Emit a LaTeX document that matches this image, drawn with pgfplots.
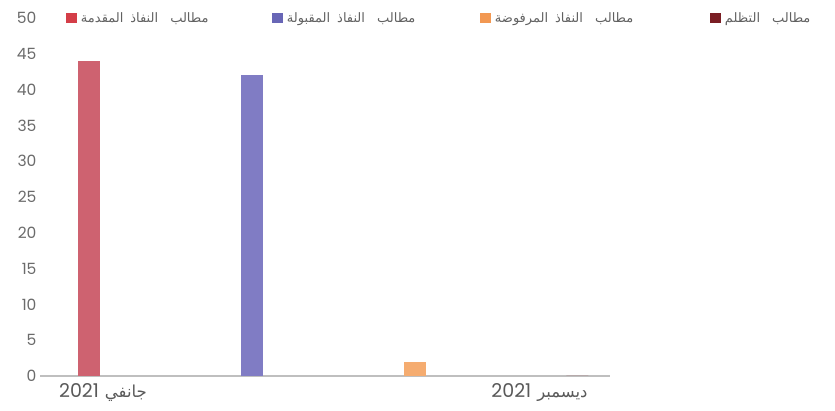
\documentclass[border=0pt]{standalone}
\usepackage{fontspec}
\setmainfont{Poppins}
\newfontfamily\arabicfont[Script=Arabic]{DejaVu Sans}
\TeXXeTstate=1
\usepackage{pgfplots}
\pgfplotsset{compat=1.18}
\usetikzlibrary{calc}
\definecolor{cRed}{RGB}{206,98,112}
\definecolor{cPurple}{RGB}{128,124,196}
\definecolor{cOrange}{RGB}{245,172,112}
\definecolor{cDark}{RGB}{122,30,36}
\definecolor{lRed}{RGB}{212,62,72}
\definecolor{lPurple}{RGB}{104,102,182}
\definecolor{lOrange}{RGB}{242,152,82}
\newcommand{\wsp}{\hspace{12pt}}
\newcommand{\nsp}{\hspace{7pt}}
\begin{document}
\begin{tikzpicture}
\begin{axis}[
  scale only axis, width=570pt, height=358pt,
  xmin=0.699, xmax=4.2, ymin=0, ymax=50,
  ytick={0,5,...,50},
  xtick={1.086,3.767},
  xticklabels={{2021\hspace{6pt}{\arabicfont\fontsize{16.5}{18}\selectfont\beginR جانفي\endR}},{2021\hspace{6pt}{\arabicfont\fontsize{16.5}{18}\selectfont\beginR ديسمبر\endR}}},
  axis x line*=bottom, axis y line*=left,
  x axis line style={draw=black!25, line width=1.2pt, -},
  y axis line style={draw=none},
  major tick length=0pt,
  yticklabel style={font=\fontsize{15.5}{17}\selectfont, text=black!58, xshift=0pt},
  xticklabel style={font=\fontsize{19}{21}\selectfont, text=black!65, yshift=-4pt},
  /pgf/number format/assume math mode=true,
  ybar, bar width=22pt, bar shift=0pt,
  clip=false,
  legend columns=4,
  legend style={at={(rel axis cs:0.04,1)}, anchor=west, draw=none, fill=none,
    font=\fontsize{13}{15}\selectfont, text=black!62,
    nodes={inner sep=0pt},
    /tikz/every odd column/.append style={column sep=0pt}},
  legend image code/.code={\fill[#1] (0pt,-5pt) rectangle (11pt,5pt);},
]
\addplot[fill=cRed, draw=none, legend image post style={fill=lRed}] coordinates {(1,44)};
\addplot[fill=cPurple, draw=none, legend image post style={fill=lPurple}] coordinates {(2,42)};
\addplot[fill=cOrange, draw=none, legend image post style={fill=lOrange}] coordinates {(3,2)};
\addplot[fill=cDark, draw=none] coordinates {(4,0)};
\addlegendentry{\makebox[195pt][l]{\hspace{4pt}{\arabicfont\beginR مطالب\wsp النفاذ\nsp المقدمة\endR}}}
\addlegendentry{\makebox[197pt][l]{\hspace{4pt}{\arabicfont\beginR مطالب\wsp النفاذ\nsp المقبولة\endR}}}
\addlegendentry{\makebox[219pt][l]{\hspace{4pt}{\arabicfont\beginR مطالب\wsp النفاذ\nsp المرفوضة\endR}}}
\addlegendentry{\makebox[100pt][l]{\hspace{4pt}{\arabicfont\beginR مطالب\wsp التظلم\endR}}}
\coordinate (sw) at (rel axis cs:0,0);
\end{axis}
\pgfresetboundingbox
\path[use as bounding box] ($(sw)+(-40pt,-35pt)$) rectangle ($(sw)+(795pt,376pt)$);
\end{tikzpicture}
\end{document}
